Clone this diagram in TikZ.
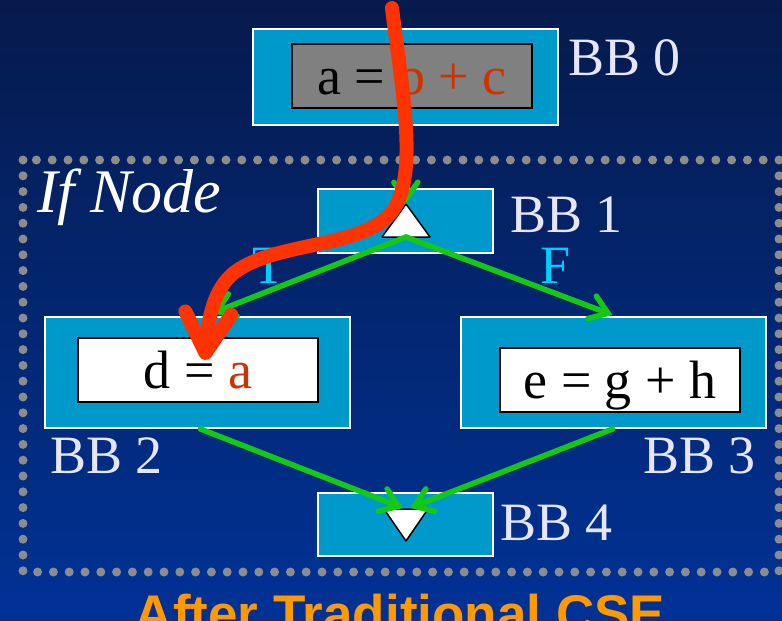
\documentclass[tikz,border=0pt]{standalone}
\usepackage{fontspec}
\setmainfont{Liberation Serif}
\newfontfamily\titlefont{Liberation Sans}
\definecolor{bgtop}{RGB}{6,26,76}
\definecolor{bgbot}{RGB}{0,50,150}
\definecolor{bbcyan}{RGB}{0,153,204}
\definecolor{csered}{RGB}{204,51,0}
\definecolor{flowgreen}{RGB}{20,200,20}
\definecolor{pathred}{RGB}{255,51,0}
\definecolor{lblwhite}{RGB}{230,230,250}
\definecolor{tfcyan}{RGB}{0,204,255}
\definecolor{titleorange}{RGB}{255,153,0}
\definecolor{dotgray}{RGB}{140,140,140}
\usetikzlibrary{arrows.meta,positioning,calc}

\begin{document}
\begin{tikzpicture}[
  x=1pt,y=-1pt,
  every node/.style={font=\fontsize{54}{60}\selectfont},
  bbbox/.style={draw=white,line width=2pt,fill=bbcyan,inner sep=0pt},
  codebox/.style={draw=black,line width=2pt,inner sep=0pt,minimum width=240pt,
                  minimum height=64pt,text depth=0pt},
  bblabel/.style={text=lblwhite,anchor=base west,inner sep=0pt},
  tflabel/.style={text=tfcyan,anchor=base west,inner sep=0pt},
  tri/.style={fill=white,draw=black,line width=1.5pt,line join=round},
  flow/.style={draw=flowgreen,line width=5.5pt,line cap=round,
               -{Straight Barb[length=17pt,width=24pt,line cap=round]}},
  cseflow/.style={draw=pathred,line width=14pt,line cap=round,line join=round,
                  -{Straight Barb[length=40pt,width=46pt,line cap=round,line join=round]}},
]
  \useasboundingbox (0,0) rectangle (782,621);
  \clip (0,0) rectangle (782,621);
  \shade[top color=bgtop,bottom color=bgbot] (0,0) rectangle (782,621);

  % If node region
  \draw[dotgray,line width=9pt,line cap=round,dash pattern=on 0pt off 15.8pt]
    (23,160) rectangle (779,572);
  \node[text=white,anchor=base west,inner sep=0pt,font=\fontsize{62}{66}\selectfont\itshape]
    (ifnode) at (37,212) {If Node};

  % BB 0
  \node[bbbox,minimum width=305pt,minimum height=96pt] (bb0) at (405.5,77) {};
  \node[codebox,fill=gray] (bb0code) at (412,76) {a = \textcolor{csered}{b + c}};
  \node[bblabel] (bb0lbl) at (568,75) {BB 0};

  % BB 1
  \node[bbbox,minimum width=175pt,minimum height=64pt] (bb1) at (405.5,221) {};
  \coordinate (bb1in) at (406,204);
  \coordinate (bb1out) at (406,237);
  \filldraw[tri] (382,237) -- (bb1in) -- (430,237) -- cycle;
  \node[bblabel] (bb1lbl) at (510,232) {BB 1};
  \node[tflabel] (tlbl) at (252,283) {T};
  \node[tflabel] (flbl) at (540,283) {F};

  % BB 2
  \node[bbbox,minimum width=305pt,minimum height=111pt] (bb2) at (197.5,372.5) {};
  \node[codebox,fill=white] (bb2code) at (198,370) {d = \textcolor{csered}{a}};
  \node[bblabel] (bb2lbl) at (50,473) {BB 2};

  % BB 3
  \node[bbbox,minimum width=305pt,minimum height=111pt] (bb3) at (613.5,372.5) {};
  \node[codebox,fill=white] (bb3code) at (620,380) {e = g + h};
  \node[bblabel] (bb3lbl) at (643,473) {BB 3};

  % BB 4
  \node[bbbox,minimum width=175pt,minimum height=63pt] (bb4) at (405.5,524.5) {};
  \coordinate (bb4in) at (406,509);
  \filldraw[tri] (384,509) -- (428,509) -- (406,541) -- cycle;
  \node[bblabel] (bb4lbl) at (500,540) {BB 4};

  % control flow
  \draw[flow] (bb0.south) -- (bb1in);
  \draw[flow] (bb1out) -- ($(bb2.north)+(15,-3)$);
  \draw[flow] (bb1out) -- ($(bb3.north)+(-1,-1)$);
  \draw[flow] ($(bb2.south)+(3,0)$) -- ($(bb4in)+(-3,-1)$);
  \draw[flow] ($(bb3.south)+(-1,0)$) -- ($(bb4in)+(4,-1)$);

  % value of a reaches d = a
  \coordinate (cseorigin) at (392,8);
  \coordinate (csetarget) at (205,360);
  \draw[cseflow] (cseorigin) .. controls (402,90) and (420,180) .. (390,214)
    .. controls (360,248) and (275,242) .. (235,272)
    .. controls (214,288) and (208,318) .. (csetarget);

  \node[font=\titlefont\bfseries\fontsize{53}{60}\selectfont,text=titleorange,
        anchor=base,inner sep=0pt] (title) at (400,632) {After Traditional CSE};
\end{tikzpicture}
\end{document}
